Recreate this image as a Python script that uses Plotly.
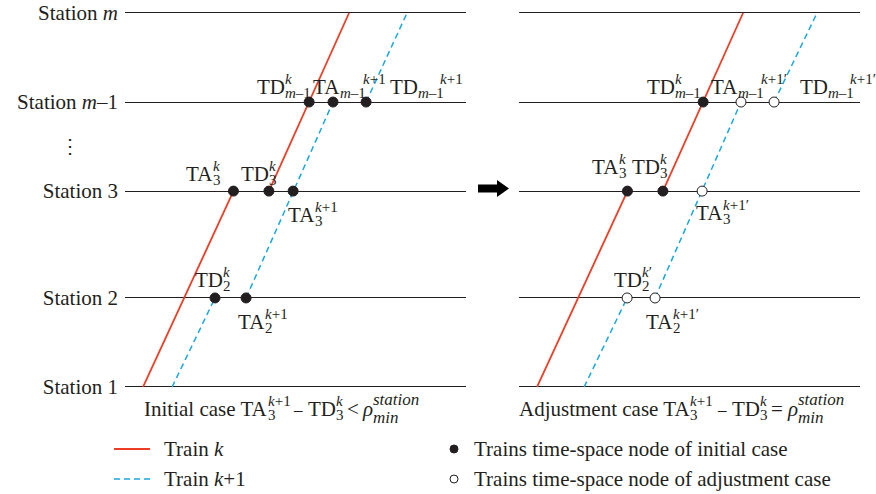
import plotly.graph_objects as go

W, H = 876, 494
FONT = "Liberation Serif"
INK = "#231F20"
RED = "#EE3D26"
BLUE = "#1AA7E1"
BASE_SIZE = 21
SCRIPT_SIZE = 15
MATH_SCRIPT_SIZE = 17

# Station positions along the line (distance units) and their labels
station_pos = [0.0, 1.0, 2.2, 3.2, 4.2]
station_names = ["Station 1", "Station 2", "Station 3",
                 "Station <i>m</i>–1", "Station <i>m</i>"]

# Train k trajectory (time, station) – identical in both cases
train_k_t = [5.3, 31.8, None, 42.2, 54.0, 65.7]
train_k_s = [0.0, 2.2, None, 2.2, 3.2, 4.2]

# Train k+1 trajectory, initial case
init_k1_t = [13.8, 26.4, None, 35.5, 49.3, 61.0, None, 70.7, 82.7]
init_k1_s = [0.0, 1.0, None, 1.0, 2.2, 3.2, None, 3.2, 4.2]

# Train k+1 trajectory, adjustment case
adj_k1_t = [19.1, 31.7, None, 39.9, 53.7, 65.1, None, 74.8, 87.4]
adj_k1_s = [0.0, 1.0, None, 1.0, 2.2, 3.2, None, 3.2, 4.2]

# Time-space nodes
init_node_t = [26.4, 35.5, 31.8, 42.2, 49.3, 54.0, 61.0, 70.7]
init_node_s = [1.0, 1.0, 2.2, 2.2, 2.2, 3.2, 3.2, 3.2]
kept_node_t = [31.8, 42.2, 54.0]
kept_node_s = [2.2, 2.2, 3.2]
adj_node_t = [31.7, 39.9, 53.7, 65.1, 74.8]
adj_node_s = [1.0, 1.0, 2.2, 3.2, 3.2]

# Node labels: panel, time, station, base, subscript, superscript,
# x offset of base/script junction, y offset of base (px, + = down), sup shift
node_labels = [
    (1, 26.4, 1.0, "TD", "2", "<i>k</i>", 8, -20, 0),
    (1, 35.5, 1.0, "TA", "2", "<i>k</i>+1", 19, 22, 0),
    (1, 31.8, 2.2, "TA", "3", "<i>k</i>", -20, -19, 0),
    (1, 42.2, 2.2, "TD", "3", "<i>k</i>", 0, -19, 0),
    (1, 49.3, 2.2, "TA", "3", "<i>k</i>+1", 22, 22, 0),
    (1, 54.0, 3.2, "TD", "<i>m</i>–1", "<i>k</i>", -24, -17, 0),
    (1, 61.0, 3.2, "TA", "<i>m</i>–1", "<i>k</i>+1", 7, -17, 23),
    (1, 70.7, 3.2, "TD", "<i>m</i>–1", "<i>k</i>+1", 52, -17, 22),
    (2, 31.7, 1.0, "TD", "2", "<i>k</i>′", 15, -20, 0),
    (2, 39.9, 1.0, "TA", "2", "<i>k</i>+1′", 18, 22, 0),
    (2, 31.8, 2.2, "TA", "3", "<i>k</i>", -8, -26, 0),
    (2, 42.2, 2.2, "TD", "3", "<i>k</i>", -3, -26, 0),
    (2, 53.7, 2.2, "TA", "3", "<i>k</i>+1′", 21, 20, 0),
    (2, 54.0, 3.2, "TD", "<i>m</i>–1", "<i>k</i>", -28, -17, 0),
    (2, 65.1, 3.2, "TA", "<i>m</i>–1", "<i>k</i>+1′", -3, -17, 23),
    (2, 74.8, 3.2, "TD", "<i>m</i>–1", "<i>k</i>+1′", 54, -17, 22),
]

# Panel captions: scripted pieces (base, junction x px, sub, sup, script size)
caption_y = 407
caption_pieces = [
    ("Initial case TA", 268, "3", "<i>k</i>+1", SCRIPT_SIZE),
    ("TD", 336, "3", "<i>k</i>", SCRIPT_SIZE),
    ("<i>ρ</i>", 373, "<i>min</i>", "<i>station</i>", MATH_SCRIPT_SIZE),
    ("Adjustment case TA", 690, "3", "<i>k</i>+1", SCRIPT_SIZE),
    ("TD", 760, "3", "<i>k</i>", SCRIPT_SIZE),
    ("<i>ρ</i>", 798, "<i>min</i>", "<i>station</i>", MATH_SCRIPT_SIZE),
]
# Operators: symbol, centre x px, font size
caption_ops = [("–", 298, 17), ("&lt;", 353, BASE_SIZE),
               ("–", 722, 17), ("=", 777, BASE_SIZE)]

# Legend entries
legend_lines = [("Train <i>k</i>", RED, "solid", 449),
                ("Train <i>k</i>+1", BLUE, "6px,4px", 479)]
legend_nodes = [("Trains time-space node of initial case", INK, 449),
                ("Trains time-space node of adjustment case", "white", 479)]


def px(x):
    return x / W


def py(y):
    return 1 - y / H


fig = go.Figure()

line_k = dict(color=RED, width=1.8)
line_k1 = dict(color=BLUE, width=1.5, dash="6px,4px")
dot_black = dict(color=INK, size=10, line=dict(color=INK, width=1))
dot_white = dict(color="white", size=10, line=dict(color=INK, width=1))

traces = [
    (train_k_t, train_k_s, "lines", line_k, None, "Train k", "x", "y"),
    (init_k1_t, init_k1_s, "lines", line_k1, None, "Train k+1", "x", "y"),
    (train_k_t, train_k_s, "lines", line_k, None, "Train k", "x2", "y2"),
    (adj_k1_t, adj_k1_s, "lines", line_k1, None, "Train k+1", "x2", "y2"),
    (init_node_t, init_node_s, "markers", None, dot_black, "Initial node", "x", "y"),
    (kept_node_t, kept_node_s, "markers", None, dot_black, "Initial node", "x2", "y2"),
    (adj_node_t, adj_node_s, "markers", None, dot_white, "Adjusted node", "x2", "y2"),
]
for tx, ty, mode, ln, mk, name, xa, ya in traces:
    fig.add_trace(go.Scatter(x=tx, y=ty, mode=mode, line=ln, marker=mk, name=name,
                             xaxis=xa, yaxis=ya, showlegend=False, hoverinfo="skip"))

annotations = []


def text_note(x, y, text, size, xanchor="center", xref="paper", yref="paper",
              xshift=0, yshift=0):
    annotations.append(dict(x=x, y=y, xref=xref, yref=yref, text=text, showarrow=False,
                            xanchor=xanchor, yanchor="middle", borderpad=0,
                            xshift=xshift, yshift=yshift,
                            font=dict(family=FONT, size=size, color=INK)))


def scripted(x, y, xref, yref, base, sub, sup, dx, dy, sup_dx, ssize=SCRIPT_SIZE):
    spread = ssize - SCRIPT_SIZE
    text_note(x, y, base, BASE_SIZE, "right", xref, yref, dx + 1, -dy - 2)
    text_note(x, y, sub, ssize, "left", xref, yref, dx - 1, -dy - 8 - spread)
    text_note(x, y, sup, ssize, "left", xref, yref, dx - 1 + sup_dx, -dy + 6 + spread)


for panel, t, s, base, sub, sup, dx, dy, sdx in node_labels:
    xr = "x" if panel == 1 else "x2"
    yr = "y" if panel == 1 else "y2"
    scripted(t, s, xr, yr, base, sub, sup, dx, dy, sdx)

for base, jx, sub, sup, ssize in caption_pieces:
    scripted(px(jx), py(caption_y), "paper", "paper", base, sub, sup, 0, 0, 0, ssize)

for op, cx, size in caption_ops:
    text_note(px(cx), py(caption_y + 2), op, size)

text_note(px(70), py(146), "⋮", 20)

shapes = []

# Legend: line swatches and node swatches with their texts
for text, color, dash, ly in legend_lines:
    shapes.append(dict(type="line", xref="paper", yref="paper",
                       x0=px(114), x1=px(150), y0=py(ly), y1=py(ly),
                       line=dict(color=color, width=1.8 if dash == "solid" else 1.5,
                                 dash=dash)))
    text_note(px(163), py(ly), text, BASE_SIZE, "left")
for text, fill, ly in legend_nodes:
    r = 4
    shapes.append(dict(type="circle", xref="paper", yref="paper",
                       x0=px(454 - r), x1=px(454 + r), y0=py(ly + r), y1=py(ly - r),
                       fillcolor=fill, line=dict(color=INK, width=1)))
    text_note(px(473), py(ly), text, BASE_SIZE, "left")

# Block arrow between the two panels
arrow_pts = [(478, 184.5), (497, 184.5), (497, 180), (509, 188.5),
             (497, 197), (497, 192.5), (478, 192.5)]
arrow_path = "M " + " L ".join(f"{px(a):.5f},{py(b):.5f}" for a, b in arrow_pts) + " Z"
shapes.append(dict(type="path", path=arrow_path, xref="paper", yref="paper",
                   fillcolor="black", line=dict(width=0)))

y_top, y_bot = 13, 387
unit = (y_bot - y_top) / (station_pos[-1] - station_pos[0])
pad = 0.1
ydom = [py(y_bot + pad * unit), py(y_top - pad * unit)]

yaxis_common = dict(domain=ydom, range=[station_pos[0] - pad, station_pos[-1] + pad],
                    tickvals=station_pos, ticktext=station_names, showgrid=True,
                    gridcolor=INK, gridwidth=1, zeroline=False, showline=False,
                    ticks="", automargin=False, fixedrange=True)

fig.update_layout(
    width=W, height=H,
    margin=dict(l=0, r=0, t=0, b=0),
    paper_bgcolor="white", plot_bgcolor="white",
    font=dict(family=FONT, size=BASE_SIZE, color=INK),
    xaxis=dict(domain=[px(125), px(466)], range=[0, 100], visible=False,
               anchor="y", fixedrange=True),
    xaxis2=dict(domain=[px(519), px(860)], range=[0, 100], visible=False,
                anchor="y2", fixedrange=True),
    yaxis=dict(yaxis_common, anchor="x", ticklabelstandoff=6,
               tickfont=dict(family=FONT, size=BASE_SIZE, color=INK)),
    yaxis2=dict(yaxis_common, anchor="x2", showticklabels=False),
    annotations=annotations,
    shapes=shapes,
    showlegend=False,
)

fig.write_html("out.html")
